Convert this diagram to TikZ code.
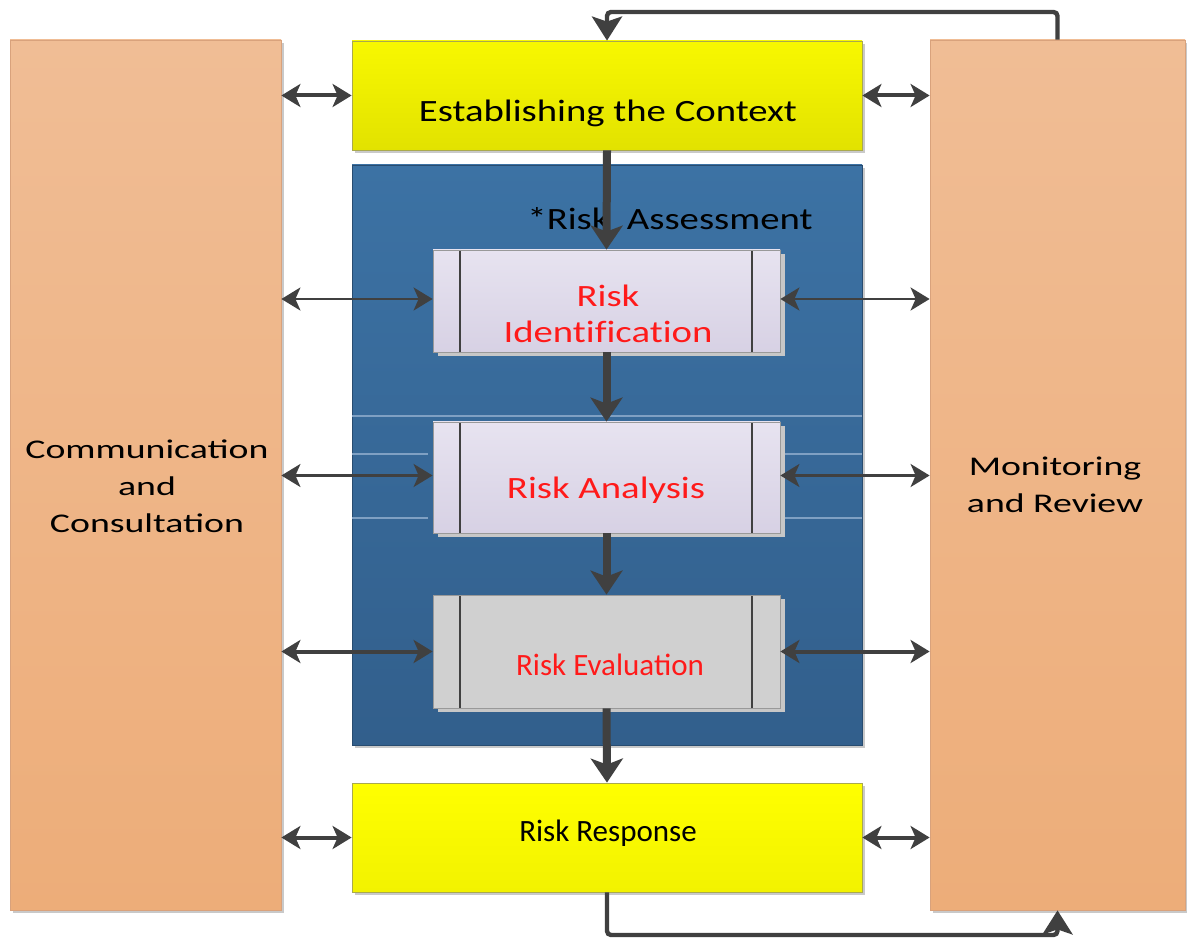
\documentclass[tikz,border=0pt]{standalone}
\usepackage{fontspec}
\setmainfont{Carlito}
\newfontfamily\widefont[FakeStretch=1.25,Ligatures=NoCommon]{Carlito}
\newfontfamily\sidefont[FakeStretch=1.4]{Carlito}
\usetikzlibrary{arrows.meta,shadows}

\definecolor{peachtop}{HTML}{F0BD95}
\definecolor{peachbot}{HTML}{EDAD79}
\definecolor{peachedge}{HTML}{D9A27C}
\definecolor{ctxtop}{HTML}{F8F800}
\definecolor{ctxbot}{HTML}{E2E200}
\definecolor{resptop}{HTML}{FFFF00}
\definecolor{respbot}{HTML}{F2F200}
\definecolor{yedge}{HTML}{A9A94E}
\definecolor{bluetop}{HTML}{3C72A4}
\definecolor{bluebot}{HTML}{325F8C}
\definecolor{lavtop}{HTML}{E7E3F0}
\definecolor{lavbot}{HTML}{D7D1E4}
\definecolor{evalgray}{HTML}{D0D0D0}
\definecolor{arrowgray}{HTML}{404040}
\definecolor{riskred}{HTML}{FF1A1A}
\definecolor{haze}{HTML}{7FA0C3}

\begin{document}
\begin{tikzpicture}[x=0.5pt,y=-0.5pt,
    sidebox/.style={draw=peachedge, top color=peachtop, bottom color=peachbot,
      minimum height=435pt, inner sep=0pt,
      drop shadow={shadow xshift=1.5pt,shadow yshift=-1.5pt,fill=black!35,opacity=0.6}},
    ctxbox/.style 2 args={draw=yedge, top color=#1, bottom color=#2,
      minimum width=255pt, minimum height=54.5pt, inner sep=0pt,
      drop shadow={shadow xshift=1.5pt,shadow yshift=-1.5pt,fill=black!35,opacity=0.6}},
    procbox/.style 2 args={draw=gray!80, top color=#1, bottom color=#2,
      minimum width=173.5pt, inner sep=0pt,
      drop shadow={shadow xshift=2.5pt,shadow yshift=-2pt,fill=black!22,opacity=1},
      path picture={
        \draw[arrowgray,line width=0.6pt]
          ([xshift=13.5pt]path picture bounding box.north west) -- ([xshift=13.5pt]path picture bounding box.south west)
          ([xshift=-14pt]path picture bounding box.north east) -- ([xshift=-14pt]path picture bounding box.south east);}},
    txt/.style={inner sep=0pt, align=center},
    widetxt/.style={txt, font=\widefont\fontsize{15.5}{18}\selectfont},
    sidetxt/.style={txt, font=\sidefont\fontsize{13.5}{18.5}\selectfont},
    plaintxt/.style={txt, font=\fontsize{15.5}{18}\selectfont},
    flow/.style={draw=arrowgray, line width=4pt, -{Stealth[length=12pt,width=16pt,inset=3pt]}},
    loopline/.style={draw=arrowgray, line width=2.2pt, rounded corners=2pt,
      -{Stealth[length=12pt,width=15pt,inset=2.5pt]}},
    twoway/.style={draw=arrowgray, line width=#1,
      {Stealth[length=9.5pt,width=11.5pt,inset=2.5pt]}-{Stealth[length=9.5pt,width=11.5pt,inset=2.5pt]}},
    twoway/.default=2pt]

  \fill[white] (0,0) rectangle (1187,940);
  \useasboundingbox (0,0) rectangle (1187,940);

  % side columns
  \node[sidebox, minimum width=135.5pt] (comm) at (145.5,475) {};
  \node[sidebox, minimum width=127.5pt] (monitor) at (1057.5,475) {};
  \node[sidetxt] (comm-txt) at (147,486) {Communication\\and\\Consultation};
  \node[sidetxt] (monitor-txt) at (1055,485) {Monitoring\\and Review};

  % context and response
  \node[ctxbox={ctxtop}{ctxbot}] (context) at (607,95.5) {};
  \node[ctxbox={resptop}{respbot}] (response) at (607,837.5) {};
  \node[widetxt] (context-txt) at (608,113) {Establishing the Context};
  \node[plaintxt] (response-txt) at (608,833) {Risk Response};

  % risk assessment block
  \node[draw=bluebot!80!black, top color=bluetop, bottom color=bluebot,
    minimum width=255pt, minimum height=290pt, inner sep=0pt,
    drop shadow={shadow xshift=1.5pt,shadow yshift=-1.5pt,fill=black!35,opacity=0.6}] (assess) at (607,455) {};
  \draw[haze, line width=0.6pt] (352,416) -- (862,416)
    (352,454) -- (428,454) (352,518) -- (428,518)
    (785,454) -- (862,454) (785,518) -- (862,518);
  \node[widetxt] (assess-txt) at (670,219) {*Risk\ \ Assessment};

  \node[procbox={lavtop}{lavbot}, minimum height=51pt] (ident) at (606.5,301) {};
  \node[procbox={lavtop}{lavbot}, minimum height=55.5pt] (analysis) at (606.5,477.5) {};
  \node[procbox={evalgray}{evalgray}, minimum height=56.5pt] (evaluation) at (606.5,651.5) {};
  \node[widetxt, text=riskred] (ident-txt) at (608,314) {Risk\\Identification};
  \node[widetxt, text=riskred] (analysis-txt) at (606,490) {Risk Analysis};
  \node[plaintxt, text=riskred] (evaluation-txt) at (610,665) {Risk Evaluation};

  % main flow
  \foreach \a/\b in {context/ident, ident/analysis, analysis/evaluation, evaluation/response}
    \draw[flow] (\a.south) -- (\b.north);

  % links to the side columns
  \foreach \n in {context, evaluation, response} {
    \draw[twoway] (\n.west -| comm.east) -- (\n.west);
    \draw[twoway] (\n.east) -- (\n.east -| monitor.west);
  }
  \foreach \n in {ident, analysis} {
    \draw[twoway=1.3pt] ([yshift=1pt]\n.west -| comm.east) -- ([yshift=1pt]\n.west);
    \draw[twoway=1.3pt] ([yshift=1pt]\n.east) -- ([yshift=1pt]\n.east -| monitor.west);
  }

  % feedback loops
  \draw[loopline] (monitor.north) -- (monitor.north |- 0,12) -| (context.north);
  \draw[loopline] (response.south) -- (response.south |- 0,935) -| (monitor.south);
\end{tikzpicture}
\end{document}
